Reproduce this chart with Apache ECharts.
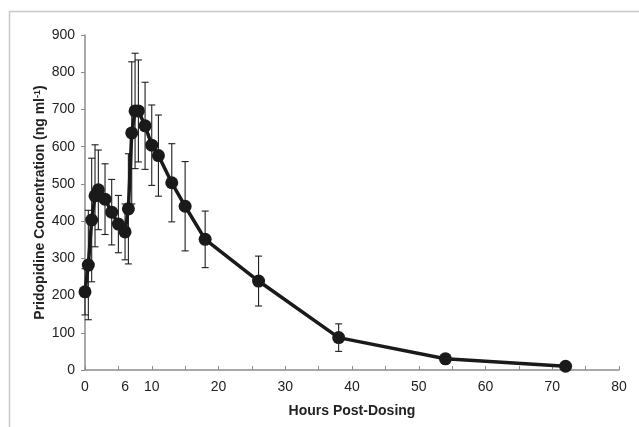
<!DOCTYPE html>
<html>
<head>
<meta charset="utf-8">
<script src="https://cdn.jsdelivr.net/npm/echarts@6/dist/echarts.min.js"></script>
<style>
html,body{margin:0;padding:0;background:#fff;}
#c{width:639px;height:427px;}
</style>
</head>
<body>
<div id="c"></div>
<script>
const hours = [0, 0.5, 1, 1.5, 2, 3, 4, 5, 6, 6.5, 7, 7.5, 8, 9, 10, 11, 13, 15, 18, 26, 38, 54, 72];
const conc = [210, 282, 403, 468, 484, 459, 424, 392, 371, 433, 637, 696, 696, 656, 604, 576, 503, 440, 351, 239, 87, 30, 10];
const sd = [62, 147, 166, 137, 107, 95, 88, 77, 75, 148, 191, 155, 137, 117, 108, 109, 105, 120, 76, 67, 37, 13, 5];
const xLabelValues = [0, 6, 10, 20, 30, 40, 50, 60, 70, 80];
const xTickValues = [0, 5, 10, 15, 20, 25, 30, 35, 40, 45, 50, 55, 60, 65, 70, 75, 80];
const xTitle = 'Hours Post-Dosing';
const yTitle = 'Pridopidine Concentration (ng ml{sup|-1})';

const chart = echarts.init(document.getElementById('c'), null, {renderer: 'canvas'});
const lineData = hours.map((h, i) => [h, conc[i]]);
const errData = hours.map((h, i) => [h, conc[i] - sd[i], conc[i] + sd[i]]);
const font = '"Liberation Sans", Arial, sans-serif';

chart.setOption({
  animation: false,
  backgroundColor: '#fff',
  graphic: [{
    type: 'rect',
    shape: {x: 9.5, y: 11.5, width: 800, height: 600},
    style: {fill: 'none', stroke: '#c8c8c8', lineWidth: 1.5},
    silent: true
  }],
  grid: {left: 85, top: 35, right: 20, bottom: 57, containLabel: false},
  xAxis: {
    type: 'value', min: 0, max: 80, interval: 5,
    name: xTitle, nameLocation: 'middle', nameGap: 34,
    nameTextStyle: {fontFamily: font, fontWeight: 'bold', fontSize: 14, color: '#222'},
    axisLine: {show: true, lineStyle: {color: '#8c8c8c', width: 1.5}},
    axisTick: {show: true, inside: true, length: 4, customValues: xTickValues, lineStyle: {color: '#8c8c8c'}},
    axisLabel: {customValues: xLabelValues, fontFamily: font, fontSize: 14, color: '#222', margin: 10},
    splitLine: {show: false}
  },
  yAxis: {
    type: 'value', min: 0, max: 900, interval: 100,
    name: yTitle, nameLocation: 'middle', nameGap: 38, nameRotate: 90, nameMoveOverlap: false,
    nameTextStyle: {fontFamily: font, fontWeight: 'bold', fontSize: 14, color: '#222',
      rich: {sup: {fontFamily: font, fontWeight: 'bold', fontSize: 9, color: '#222', verticalAlign: 'top', lineHeight: 14}}},
    axisLine: {show: true, lineStyle: {color: '#8c8c8c', width: 1.5}},
    axisTick: {show: true, inside: false, length: 4, lineStyle: {color: '#8c8c8c'}},
    axisLabel: {fontFamily: font, fontSize: 14, color: '#222', margin: 10},
    splitLine: {show: false}
  },
  series: [
    {
      type: 'custom',
      z: 1,
      data: errData,
      encode: {x: 0, y: [1, 2]},
      renderItem: function (params, api) {
        const x = api.value(0);
        const lo = api.coord([x, api.value(1)]);
        const hi = api.coord([x, api.value(2)]);
        const cap = 3.5;
        const st = {stroke: '#1e1e1e', lineWidth: 1.1};
        return {
          type: 'group',
          children: [
            {type: 'line', shape: {x1: lo[0], y1: lo[1], x2: hi[0], y2: hi[1]}, style: st},
            {type: 'line', shape: {x1: lo[0] - cap, y1: lo[1], x2: lo[0] + cap, y2: lo[1]}, style: st},
            {type: 'line', shape: {x1: hi[0] - cap, y1: hi[1], x2: hi[0] + cap, y2: hi[1]}, style: st}
          ]
        };
      }
    },
    {
      type: 'line',
      z: 3,
      data: lineData,
      symbol: 'circle',
      symbolSize: 13,
      lineStyle: {color: '#1a1a1a', width: 3.5},
      itemStyle: {color: '#1a1a1a'}
    }
  ]
});
</script>
</body>
</html>
